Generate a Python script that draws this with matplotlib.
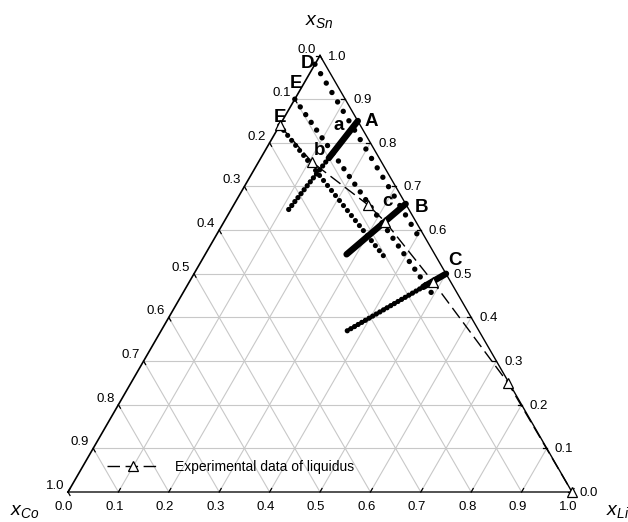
import numpy as np
import matplotlib
matplotlib.use("Agg")
import matplotlib.pyplot as plt

plt.rcParams['font.family'] = ['Liberation Sans', 'DejaVu Sans']
plt.rcParams['mathtext.fontset'] = 'custom'
plt.rcParams['mathtext.it'] = 'Liberation Sans:italic'
plt.rcParams['mathtext.rm'] = 'Liberation Sans'
plt.rcParams['lines.scale_dashes'] = False  # dash patterns given in points

# compositions are given as (x_Li, x_Sn); x_Co = 1 - x_Li - x_Sn
tick_values = [0.0, 0.1, 0.2, 0.3, 0.4, 0.5, 0.6, 0.7, 0.8, 0.9, 1.0]
tick_labels = ['0.0', '0.1', '0.2', '0.3', '0.4', '0.5', '0.6', '0.7', '0.8', '0.9', '1.0']

# calculated sections towards the Li corner (dotted)
D_li = [0.0, 0.40]
D_sn = [0.98, 0.588]
E_li = [0.0, 0.51]
E_sn = [0.90, 0.441]
F_li = [0.0, 0.365]
F_sn = [0.84, 0.533]

# sections towards the Co corner (first piece thick, rest dotted)
A_li = [0.15, 0.135, 0.114]
A_sn = [0.85, 0.765, 0.646]
B_li = [0.34, 0.2805]
B_sn = [0.66, 0.5445]
C_li = [0.50, 0.47, 0.365]
C_sn = [0.50, 0.47, 0.365]

# experimental liquidus
exp_li = [0.0, 0.106, 0.266, 0.320, 0.484, 0.748, 1.0]
exp_sn = [0.84, 0.756, 0.658, 0.619, 0.481, 0.250, 0.0]

SQ = np.sqrt(3) / 2
W = 504.0  # triangle side in pixels


def tern(li, sn):
    """ternary (x_Li, x_Sn) -> cartesian in the unit triangle"""
    li = np.asarray(li, dtype=float)
    sn = np.asarray(sn, dtype=float)
    return li + sn / 2, sn * SQ


def px(x, y):
    """pixel position in the picture -> data coords (for text placement)"""
    return (x - 68) / W, (492 - y) / W


fig = plt.figure(figsize=(6.28, 5.22), dpi=100)
ax = fig.add_axes([0, 0, 1, 1])
ax.set_xlim(-68 / W, 560 / W)
ax.set_ylim(-30 / W, 492 / W)
ax.axis('off')

grid_kw = dict(color='#c8c8c8', lw=0.8, zorder=1)
for v in tick_values[1:-1]:
    ax.plot(*tern([v, v], [0, 1 - v]), **grid_kw)        # const x_Li
    ax.plot(*tern([0, 1 - v], [v, v]), **grid_kw)        # const x_Sn
    ax.plot(*tern([0, 1 - v], [1 - v, 0]), **grid_kw)    # const x_Co

# triangle edges
ax.plot(*tern([0, 1], [0, 0]), color='#444444', lw=1.3, zorder=2)
ax.plot(*tern([1, 0], [0, 1]), color='k', lw=1.0, zorder=2)
ax.plot(*tern([0, 0], [0, 1]), color='k', lw=1.2, zorder=2)

# ticks and tick labels
tl = 4 / W
for v, lab in zip(tick_values, tick_labels):
    # bottom: x_Li
    x0, y0 = tern(v, 0)
    ax.plot([x0, x0 + 0.5 * tl], [y0, y0 + SQ * tl], color='k', lw=0.9, zorder=2)
    ax.text(x0 - 4 / W, y0 - 15 / W, lab, fontsize=9.5, ha='center', va='center')
    # right: x_Sn
    x0, y0 = tern(1 - v, v)
    ax.plot([x0, x0 - tl], [y0, y0], color='k', lw=0.9, zorder=2)
    ax.text(x0 + 8 / W, y0 - 1 / W, lab, fontsize=9.5, ha='left', va='center')
    # left: x_Co
    x0, y0 = tern(0, 1 - v)
    ax.plot([x0, x0 + 0.5 * tl], [y0, y0 - SQ * tl], color='k', lw=0.9, zorder=2)
    ax.text(x0 - 4 / W, y0 + 6 / W, lab, fontsize=9.5, ha='right', va='center')


def dots(li, sn, size, gap):
    ax.plot(*tern(li, sn), color='k', lw=size, linestyle=(0, (0.01, gap)),
            dash_capstyle='round', zorder=3)


def thick(li, sn):
    ax.plot(*tern(li, sn), color='k', lw=4.6, solid_capstyle='round', zorder=3)


dots(D_li, D_sn, 3.9, 7.9)
dots(E_li, E_sn, 3.9, 6.8)
dots(F_li, F_sn, 3.7, 4.6)

thick(A_li[:2], A_sn[:2])
dots(A_li[1:], A_sn[1:], 3.8, 3.6)
thick(B_li, B_sn)
thick(C_li[:2], C_sn[:2])
dots(C_li[1:], C_sn[1:], 3.8, 3.0)

ax.plot(*tern(exp_li, exp_sn), color='k', lw=1.0, linestyle=(0, (9, 4)),
        marker='^', ms=7, mfc='white', mec='k', mew=0.9, zorder=5,
        label='Experimental data of liquidus')

# section labels
for s, (x, y) in [('D', (308, 64)), ('E', (296, 84)), ('E', (280, 118)),
                  ('A', (371, 122)), ('a', (339, 126)), ('b', (320, 151)),
                  ('B', (422, 207)), ('c', (387, 202)), ('C', (455, 261))]:
    ax.text(*px(x, y), s, fontsize=13.5, fontweight='bold', ha='center', va='center', zorder=6)

# axis titles
ax.text(*px(319, 22), r'$x_{Sn}$', fontsize=14, ha='center', va='center')
ax.text(*px(25, 511), r'$x_{Co}$', fontsize=14, ha='center', va='center')
ax.text(*px(606, 512), r'$x_{Li}$', fontsize=14, ha='left', va='center')

ax.legend(loc='center left', bbox_to_anchor=(107 / 628, 55 / 522),
          bbox_transform=fig.transFigure, frameon=False, handlelength=3.8,
          handletextpad=1.1, borderpad=0, borderaxespad=0, fontsize=10,
          numpoints=1)

fig.savefig('out.png', dpi=100)
